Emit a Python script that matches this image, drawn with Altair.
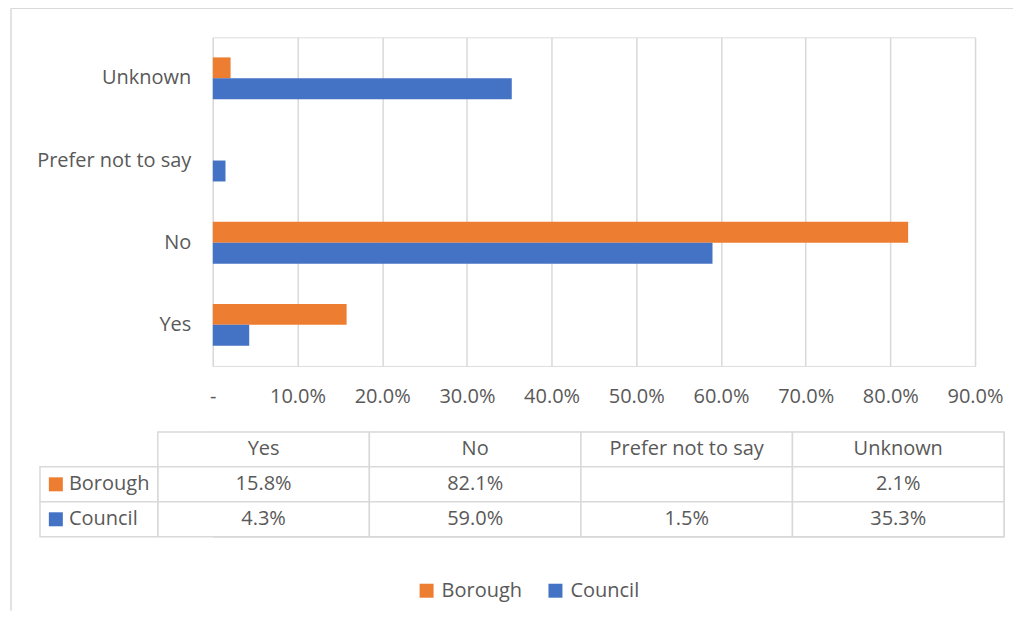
import altair as alt
import pandas as pd

categories = ["Yes", "No", "Prefer not to say", "Unknown"]
series = ["Borough", "Council"]
borough = [0.158, 0.821, None, 0.021]
council = [0.043, 0.590, 0.015, 0.353]
colors = ["#ED7D31", "#4472C4"]
x_ticks = [0.0, 0.1, 0.2, 0.3, 0.4, 0.5, 0.6, 0.7, 0.8, 0.9]

FONT = "Open Sans"
FS = 20
TXT = "#595959"
GRID = "#D9D9D9"

rows = []
for s, vals in zip(series, [borough, council]):
    for c, v in zip(categories, vals):
        rows.append({"category": c, "series": s, "value": v})
df = pd.DataFrame(rows)
bar_df = df.dropna(subset=["value"])

top_to_bottom = list(reversed(categories))

bars = alt.Chart(bar_df).mark_bar().encode(
    y=alt.Y("category:N", sort=top_to_bottom,
            scale=alt.Scale(paddingInner=0.49, paddingOuter=0.245),
            axis=alt.Axis(title=None, labelFontSize=FS, labelColor=TXT, labelFont=FONT,
                          ticks=False, domain=False, labelPadding=22, grid=False)),
    yOffset=alt.YOffset("series:N", sort=series),
    x=alt.X("value:Q", scale=alt.Scale(domain=[0, 0.9], nice=False, zero=True),
            axis=alt.Axis(title=None, values=x_ticks, grid=True, gridColor=GRID, gridWidth=1.5,
                          domain=False, ticks=False, labelFontSize=FS, labelColor=TXT, labelFont=FONT,
                          labelPadding=21, labelFlush=False, labelOverlap=False, labelBound=False,
                          labelExpr="datum.value == 0 ? '-' : format(datum.value, '.1%')")),
    color=alt.Color("series:N", scale=alt.Scale(domain=series, range=colors),
                    legend=alt.Legend(title=None, orient="none", legendX=204, legendY=544,
                                      direction="horizontal",
                                      symbolType="square", symbolSize=196, symbolStrokeWidth=0,
                                      labelFontSize=FS, labelColor=TXT, labelFont=FONT,
                                      labelOffset=5, columnPadding=23, padding=0)),
)

# outer chart-area border (top and left edges visible)
frame_df = pd.DataFrame({"k": [0]})
frame_top = alt.Chart(frame_df).mark_rule(color=GRID, strokeWidth=1.5).encode(
    x=alt.value(-202), x2=alt.value(801), y=alt.value(-29))
frame_left = alt.Chart(frame_df).mark_rule(color=GRID, strokeWidth=1.5).encode(
    x=alt.value(-202), y=alt.value(-29), y2=alt.value(574))

top = alt.layer(frame_top, frame_left, bars).properties(width=763, height=329)

# Table
label_w = 0.557
tab_rows = []
for ci, c in enumerate(categories):
    tab_rows.append({"row": "header", "col": ci, "text": c})
    for s, vals in zip(series, [borough, council]):
        v = vals[ci]
        tab_rows.append({"row": s, "col": ci, "text": "" if v is None else f"{v*100:.1f}%"})
tdf = pd.DataFrame(tab_rows)
lab_df = pd.DataFrame({"row": series, "series": series})

row_order = ["header"] + series
xs = alt.Scale(domain=[-label_w, 4], range=[-173, 792], nice=False, zero=False)
ys = alt.Scale(domain=row_order, paddingInner=0, paddingOuter=0)
Yrow = alt.Y("row:N", scale=ys, axis=None, sort=row_order)

base = alt.Chart(tdf).transform_calculate(x2="datum.col + 1", xc="datum.col + 0.5")
cells = base.mark_rect(fill="white", stroke=GRID, strokeWidth=1.5).encode(
    x=alt.X("col:Q", scale=xs, axis=None), x2="x2:Q", y=Yrow)
texts = base.mark_text(fontSize=FS, font=FONT, color=TXT).encode(
    x=alt.X("xc:Q", scale=xs, axis=None), y=Yrow, text="text:N")

lab_base = alt.Chart(lab_df).transform_calculate(x0=f"{-label_w}", x1="0", xs_="-0.482", xt="-0.42")
lab_cells = lab_base.mark_rect(fill="white", stroke=GRID, strokeWidth=1.5).encode(
    x=alt.X("x0:Q", scale=xs, axis=None), x2="x1:Q", y=Yrow)
lab_sq = lab_base.mark_square(size=196, opacity=1).encode(
    x=alt.X("xs_:Q", scale=xs, axis=None), y=Yrow,
    color=alt.Color("series:N", scale=alt.Scale(domain=series, range=colors), legend=None))
lab_txt = lab_base.mark_text(align="left", fontSize=FS, font=FONT, color=TXT).encode(
    x=alt.X("xt:Q", scale=xs, axis=None), y=Yrow, text="series:N")

table = alt.layer(cells, texts, lab_cells, lab_sq, lab_txt).properties(width=792, height=105)

chart = alt.vconcat(top, table, spacing=66, bounds="flush").properties(
    padding={"left": 1, "top": -2, "right": 0, "bottom": 0}
).configure_view(stroke=None).configure(background="white")

chart.save("out.html", embed_options={"renderer": "svg", "actions": False})
